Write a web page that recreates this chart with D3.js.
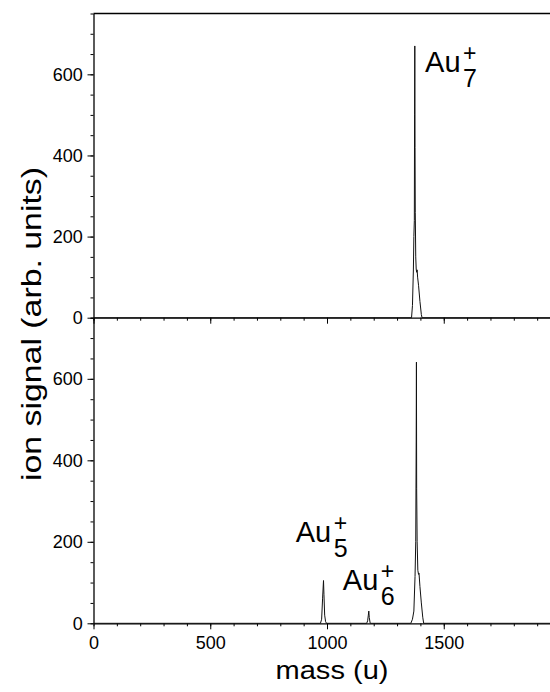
<!DOCTYPE html>
<html>
<head>
<meta charset="utf-8">
<script src="https://cdn.jsdelivr.net/npm/d3@7"></script>
<style>
  body { margin: 0; background: #fff; }
  svg text { font-family: "Liberation Sans", Arial, sans-serif; fill: #000; }
</style>
</head>
<body>
<div id="chart"></div>
<script>
// top panel: mass spectrum, only Au7+ peak
var massTop   = [0, 1362, 1366, 1370, 1372, 1374, 1375, 1376, 1377, 1378, 1380, 1382, 1384, 1386, 1388, 1392, 1398, 1404, 1407, 1955];
var signalTop = [0,    0,   30,  120,  200,  240,  500,  670,  420,  260,  150,  120,  112,  118,  100,   80,   40,    8,    0,    0];

// bottom panel: Au5+, Au6+ and Au7+
var massBottom   = [0, 972, 977, 981, 985, 987, 990, 994, 998, 1170, 1174, 1177, 1179, 1181, 1185, 1359, 1366, 1372, 1377, 1380, 1382, 1383, 1384, 1386, 1389, 1392, 1394, 1398, 1404, 1410, 1414, 1955];
var signalBottom = [0,   0,  10,  60, 105,  70,  20,   4,   0,    0,    6,   20,   30,   14,    0,    0,   10,   30,  115,  200,  450,  641,  330,  200,  130,  120,  123,   90,   50,   15,    0,    0];

var xTicks = [0, 500, 1000, 1500];
var yTicks = [0, 200, 400, 600];
var labels = [
  {panel: "top", mass: 1377, value: 670, n: "7", dx: 10, dy: 26},
  {panel: "bottom", mass: 986, value: 105, n: "5", dx: -28, dy: -39},
  {panel: "bottom", mass: 1179, value: 30, n: "6", dx: -26, dy: -21}
];

var width = 550, height = 692;
var left = 93.5, right = 550;
var topY0 = 13.5, midY = 317.7, botY = 623.3;

var svg = d3.select("#chart").append("svg")
  .attr("width", width)
  .attr("height", height);

var x = d3.scaleLinear().domain([0, 1955]).range([left, right]);
var yTop = d3.scaleLinear().domain([0, 750]).range([midY, topY0]);
var yBot = d3.scaleLinear().domain([0, 750]).range([botY, midY]);

var minorX = d3.range(0, 1955, 100);
var minorY = d3.range(0, 751, 50);

function drawPanel(y, showXLabels) {
  // minor ticks first
  svg.append("g")
    .attr("transform", "translate(0," + y.range()[0] + ")")
    .call(d3.axisBottom(x).tickValues(minorX).tickSize(3).tickFormat(""))
    .call(function(g) { g.select(".domain").remove(); });
  svg.append("g")
    .attr("transform", "translate(" + left + ",0)")
    .call(d3.axisLeft(y).tickValues(minorY).tickSize(3).tickFormat(""))
    .call(function(g) { g.select(".domain").remove(); });

  var xa = svg.append("g")
    .attr("transform", "translate(0," + y.range()[0] + ")")
    .call(d3.axisBottom(x).tickValues(xTicks).tickSize(6).tickSizeOuter(0)
      .tickFormat(showXLabels ? d3.format("d") : ""));
  xa.selectAll("text").attr("font-size", 18).attr("dy", "0.95em")
    .style("font-family", "Liberation Sans, Arial, sans-serif");

  var ya = svg.append("g")
    .attr("transform", "translate(" + left + ",0)")
    .call(d3.axisLeft(y).tickValues(yTicks).tickSize(6).tickSizeOuter(0));
  ya.selectAll("text").attr("font-size", 18).attr("dx", "-0.1em")
    .style("font-family", "Liberation Sans, Arial, sans-serif");

  svg.selectAll(".domain").attr("stroke-width", 1.3);
}

drawPanel(yTop, false);
drawPanel(yBot, true);

// frame line on top
svg.append("line")
  .attr("x1", left).attr("x2", right)
  .attr("y1", topY0).attr("y2", topY0)
  .attr("stroke", "#000").attr("stroke-width", 1.3);

var lineTop = d3.line()
  .x(function(d) { return x(d[0]); })
  .y(function(d) { return yTop(d[1]); });
var lineBot = d3.line()
  .x(function(d) { return x(d[0]); })
  .y(function(d) { return yBot(d[1]); });

svg.append("path")
  .datum(d3.zip(massTop, signalTop))
  .attr("d", lineTop)
  .attr("fill", "none").attr("stroke", "#111").attr("stroke-width", 1);

svg.append("path")
  .datum(d3.zip(massBottom, signalBottom))
  .attr("d", lineBot)
  .attr("fill", "none").attr("stroke", "#111").attr("stroke-width", 1);

// peak labels  Au_n^+
labels.forEach(function(l) {
  var y = l.panel == "top" ? yTop : yBot;
  var px = x(l.mass) + l.dx, py = y(l.value) + l.dy;
  var g = svg.append("g").attr("transform", "translate(" + px + "," + py + ")");
  g.append("text").attr("font-size", 29).text("Au");
  g.append("text").attr("x", 38).attr("y", 15).attr("font-size", 25).text(l.n);
  g.append("text").attr("x", 38).attr("y", -11).attr("font-size", 23).text("+");
});

// axis titles
svg.append("text")
  .attr("x", 332).attr("y", 679)
  .attr("text-anchor", "middle")
  .attr("font-size", 26)
  .attr("textLength", 113).attr("lengthAdjust", "spacingAndGlyphs")
  .text("mass (u)");

svg.append("text")
  .attr("transform", "translate(41,324) rotate(-90)")
  .attr("text-anchor", "middle")
  .attr("font-size", 27)
  .attr("textLength", 314).attr("lengthAdjust", "spacingAndGlyphs")
  .text("ion signal (arb. units)");
</script>
</body>
</html>
